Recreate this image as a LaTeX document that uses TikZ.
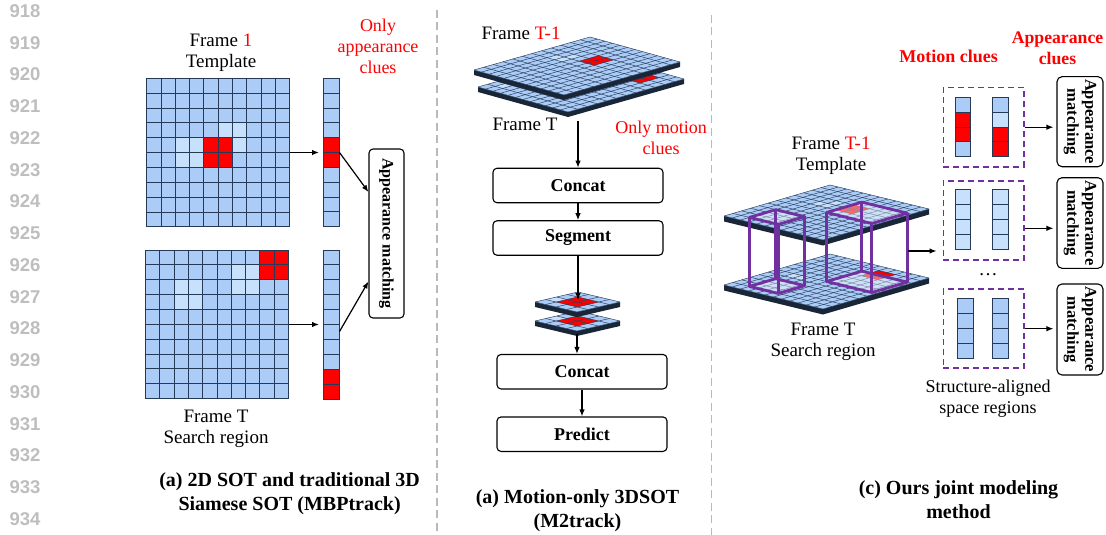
\documentclass[tikz,border=0pt]{standalone}
\usepackage{fontspec}
\setmainfont{Liberation Serif}
\newfontfamily\numfont{Liberation Sans}
\usetikzlibrary{arrows.meta,calc}

\definecolor{cellblue}{RGB}{170,204,246}
\definecolor{celllight}{RGB}{199,224,251}
\definecolor{gridline}{RGB}{38,58,88}
\definecolor{planeedge}{RGB}{24,38,56}
\definecolor{boxpurple}{RGB}{112,48,160}
\definecolor{sepgray}{RGB}{185,185,185}
\definecolor{numgray}{RGB}{190,190,190}

\tikzset{
  lbl/.style={font=\fontsize{19}{21}\selectfont, align=center, inner sep=0pt},
  note/.style={font=\fontsize{18}{21}\selectfont, text=red, align=center, inner sep=0pt},
  captxt/.style={font=\bfseries\fontsize{20}{24}\selectfont, align=center, inner sep=0pt},
  opbox/.style={draw, rounded corners=4pt, line width=1.1pt, minimum width=170, minimum height=34.5,
    inner sep=0pt, font=\bfseries\fontsize{18}{20}\selectfont},
  matchbox/.style={draw, rounded corners=5pt, line width=1.1pt, inner sep=0pt,
    font=\bfseries\fontsize{16.5}{18}\selectfont},
  region/.style={draw=boxpurple, dash pattern=on 6pt off 4pt, line width=1.6pt,
    minimum width=80.7, minimum height=79, inner sep=0pt},
  arr/.style={-{Latex[length=7pt,width=5.5pt]}, line width=1.2pt},
  sepline/.style={draw=sepgray, line width=1.3pt, dash pattern=on 8pt off 4.5pt},
  hidden/.style={inner sep=0pt},
}

% flat 10x10 map: #1,#2 top left, #3 red cells, #4 light cells
\newcommand{\flatgrid}[4]{%
  \begin{scope}[shift={(#1,#2)}, x=14.3pt, y=-14.85pt]
    \fill[cellblue] (0,0) rectangle (10,10);
    \foreach \i/\j in {#4} \fill[celllight] (\i,\j) rectangle ++(1,1);
    \foreach \i/\j in {#3} \fill[red] (\i,\j) rectangle ++(1,1);
    \foreach \k in {0,...,10} {
      \draw[gridline, line width=0.9pt] (\k,0) -- (\k,10);
      \draw[gridline, line width=0.9pt] (0,\k) -- (10,\k);
    }
  \end{scope}}

% column of cells: #1,#2 top left, #3 width, #4 height, #5 colours
\newcommand{\vectorcol}[5]{%
  \foreach \c [count=\k from 0] in {#5}
    \filldraw[fill=\c, draw=gridline, line width=0.9pt] (#1,#2+\k*#4) rectangle ++(#3,#4);}

% slanted map: #1 left corner, #2 u step, #3 v step, #4 cells, #5 thickness, #6 red, #7 light
\newcommand{\gridplane}[7]{%
  \begin{scope}[shift={#1}, x={#2}, y={#3}]
    \fill[planeedge] (0,0) -- (#4,0) -- (#4,#4) -- ([yshift=-#5]#4,#4)
      -- ([yshift=-#5]#4,0) -- ([yshift=-#5]0,0) -- cycle;
    \fill[cellblue] (0,0) -- (#4,0) -- (#4,#4) -- (0,#4) -- cycle;
    \foreach \i/\j in {#7} \fill[celllight] (\i,\j) -- ++(1,0) -- ++(0,1) -- ++(-1,0) -- cycle;
    \foreach \i/\j in {#6} \fill[red] (\i,\j) -- ++(1,0) -- ++(0,1) -- ++(-1,0) -- cycle;
    \foreach \k in {0,...,#4} {
      \draw[gridline, line width=0.45pt] (\k,0) -- (\k,#4);
      \draw[gridline, line width=0.45pt] (0,\k) -- (#4,\k);
    }
  \end{scope}}

% purple box between the two maps: u0, v0, u1, v1
\newcommand{\purplebox}[4]{%
  \fill[white, opacity=.4] (#1,#2) -- (#3,#2) -- (#3,#4) -- (#1,#4) -- cycle;
  \fill[white, opacity=.4, yshift=-69pt] (#1,#2) -- (#3,#2) -- (#3,#4) -- (#1,#4) -- cycle;
  \draw[boxpurple, line width=2.8pt, line join=round] (#1,#2) -- (#3,#2) -- (#3,#4) -- (#1,#4) -- cycle;
  \draw[boxpurple, line width=2.8pt, line join=round, yshift=-69pt] (#1,#2) -- (#3,#2) -- (#3,#4) -- (#1,#4) -- cycle;
  \foreach \p in {{#1,#2},{#3,#2},{#3,#4},{#1,#4}}
    \draw[boxpurple, line width=2.8pt] (\p) -- ([yshift=-69pt]\p);}

\begin{document}
\begin{tikzpicture}[x=1pt, y=-1pt]
  \useasboundingbox (0,0) rectangle (1106,535);

  % line numbers
  \foreach \n [count=\k from 0] in {918,...,934}
    \node[text=numgray, font=\numfont\bfseries\fontsize{18.5}{20}\selectfont] (ln\n) at (25,11+\k*31.75) {\n};

  % separators
  \draw[sepline] (437,10) -- (437,535);
  \draw[sepline] (711.5,15) -- (711.5,535);

  % ---------- (a) ----------
  \flatgrid{146.7}{78.3}{4/4,5/4,4/5,5/5}{5/3,6/3,2/4,3/4,6/4,2/5,3/5}
  \flatgrid{145.5}{250}{8/0,9/0,8/1,9/1}{6/1,7/1,2/2,3/2,6/2,7/2,2/3,3/3}
  \vectorcol{323.7}{78.3}{15.6}{14.84}{cellblue,cellblue,cellblue,cellblue,red,red,cellblue,cellblue,cellblue,cellblue}
  \vectorcol{323.7}{250}{15.6}{14.9}{cellblue,cellblue,cellblue,cellblue,cellblue,cellblue,cellblue,cellblue,red,red}
  \node[hidden, minimum width=143, minimum height=148.5] (tgrid) at (218.2,152.5) {};
  \node[hidden, minimum width=143, minimum height=149] (bgrid) at (217,324.5) {};
  \node[hidden, minimum width=15.6, minimum height=148.4] (tvec) at (331.5,152.5) {};
  \node[hidden, minimum width=15.6, minimum height=149] (bvec) at (331.5,324.5) {};
  \node[draw, rounded corners=4pt, line width=1.1pt, inner sep=0pt, minimum width=35, minimum height=169,
    font=\bfseries\fontsize{16}{18}\selectfont] (amatch) at (386.5,233.5) {\rotatebox{-90}{Appearance matching}};

  \draw[arr] (tgrid.east) -- ([xshift=-4.5pt]tvec.west);
  \draw[arr] (bgrid.east) -- ([xshift=-4.5pt]bvec.west);
  \draw[arr] (tvec.east) -- ([yshift=41.5pt]amatch.west);
  \draw[arr] ([yshift=-7pt]bvec.east) -- ([yshift=-48pt]amatch.west);

  \node[lbl] (frameone) at (221,53) {Frame \textcolor{red}{1}\\Template};
  \node[note] (onlyapp) at (378,46) {Only\\appearance\\clues};
  \node[lbl] (frameTa) at (216,428.5) {Frame T\\Search region};
  \node[captxt] (capa) at (289.6,494) {(a) 2D SOT and traditional 3D\\Siamese SOT (MBPtrack)};

  % ---------- (b) ----------
  \gridplane{(478,87)}{(7.5pt,-2.083pt)}{(9.667pt,2.75pt)}{12}{5pt}{8/9,9/9,8/10,9/10}{1/1}
  \gridplane{(474,70)}{(7.5pt,-2.083pt)}{(9.667pt,2.75pt)}{12}{5pt}{5/7,6/7,5/8,6/8}{2/6,3/6,3/7}
  \gridplane{(535,321)}{(10.5pt,-2.5pt)}{(10.75pt,2.5pt)}{4}{5pt}{1/1,2/1,1/2,2/2}{0/1}
  \gridplane{(535,302)}{(10.5pt,-2.5pt)}{(10.75pt,2.5pt)}{4}{5pt}{1/1,2/1,1/2,2/2}{0/1}

  \node[lbl] (frameTm1b) at (521,33) {Frame \textcolor{red}{T-1}};
  \node[lbl] (frameTb) at (525,124) {Frame T};
  \node[note] (onlymot) at (661,138) {Only motion\\clues};

  \node[opbox] (concatA) at (578,185.5) {Concat};
  \node[opbox] (segment) at (578,238) {Segment};
  \node[opbox] (concatB) at (582,371.7) {Concat};
  \node[opbox] (predict) at (582,434.2) {Predict};
  \coordinate (stackb) at (578,121);
  \coordinate (smalltop) at (578,300);
  \coordinate (smallbot) at (577,334);

  \draw[arr] (stackb) -- (concatA.north);
  \draw[arr] (concatA) -- (segment);
  \draw[arr] (segment) -- (smalltop);
  \draw[arr] (smallbot) -- (smallbot |- concatB.north);
  \draw[arr] (concatB) -- (predict);

  \node[captxt] (capb) at (577.5,510.3) {(a) Motion-only 3DSOT\\(M2track)};

  % ---------- (c) ----------
  \gridplane{(724,285)}{(8.25pt,-2pt)}{(8.833pt,2.583pt)}{12}{5.5pt}{7/9,8/9,7/10,8/10}{2/5,3/5}
  \gridplane{(724,216)}{(8.25pt,-2pt)}{(8.833pt,2.583pt)}{12}{5.5pt}{6/7,7/7,6/8,7/8}{3/7,4/7,4/8}
  \begin{scope}[shift={(724,216)}, x={(8.25pt,-2pt)}, y={(8.833pt,2.583pt)}]
    \purplebox{2}{1}{5.5}{4}
    \purplebox{6}{6}{11.5}{10}
  \end{scope}

  \node[region] (reg1) at (983.7,127.2) {};
  \node[region] (reg2) at (983.7,220.3) {};
  \node[region] (reg3) at (983.7,328.7) {};
  \vectorcol{955}{97.3}{15.7}{14.85}{cellblue,red,red,cellblue}
  \vectorcol{992.7}{97.3}{15.7}{14.85}{cellblue,celllight,red,red}
  \vectorcol{955}{189.3}{15.7}{15}{celllight,celllight,celllight,celllight}
  \vectorcol{992.7}{189.3}{15.7}{15}{celllight,celllight,celllight,celllight}
  \vectorcol{957.5}{298.3}{15.8}{15}{cellblue,cellblue,cellblue,cellblue}
  \vectorcol{992.7}{298.3}{15.7}{15}{cellblue,cellblue,cellblue,cellblue}

  \node[matchbox, minimum width=46, minimum height=90] (match1) at (1080,121.7)
    {\rotatebox{-90}{\begin{tabular}{@{}c@{}}Appearance\\matching\end{tabular}}};
  \node[matchbox, minimum width=46, minimum height=90.6] (match2) at (1080,223)
    {\rotatebox{-90}{\begin{tabular}{@{}c@{}}Appearance\\matching\end{tabular}}};
  \node[matchbox, minimum width=46, minimum height=91] (match3) at (1080,329.5)
    {\rotatebox{-90}{\begin{tabular}{@{}c@{}}Appearance\\matching\end{tabular}}};

  \coordinate (cubeR) at (907.5,251);
  \coordinate (r2out) at ([yshift=-8pt]reg2.east);
  \draw[arr, shorten >=6pt] (cubeR) -- (cubeR -| reg2.west);
  \draw[arr, shorten >=3pt] (reg1.east) -- (reg1.east -| match1.west);
  \draw[arr, shorten >=3pt] (r2out) -- (r2out -| match2.west);
  \draw[arr, shorten >=3pt] (reg3.east) -- (reg3.east -| match3.west);

  \node[lbl] (frameTm1c) at (831,156) {Frame \textcolor{red}{T-1}\\Template};
  \node[lbl] (frameTc) at (823,341.7) {Frame T\\Search region};
  \node[note, font=\bfseries\fontsize{18}{21}\selectfont] (motclue) at (948.7,56.7) {Motion clues};
  \node[note, font=\bfseries\fontsize{17.7}{21}\selectfont] (appclue) at (1057.5,47.8) {Appearance\\clues};
  \node[note, text=black] (structlbl) at (988,399) {Structure-aligned\\space regions};
  \node[lbl] (dotsc) at (988,275) {\dots};
  \node[captxt] (capc) at (958.5,500) {(c) Ours joint modeling\\method};
\end{tikzpicture}
\end{document}
